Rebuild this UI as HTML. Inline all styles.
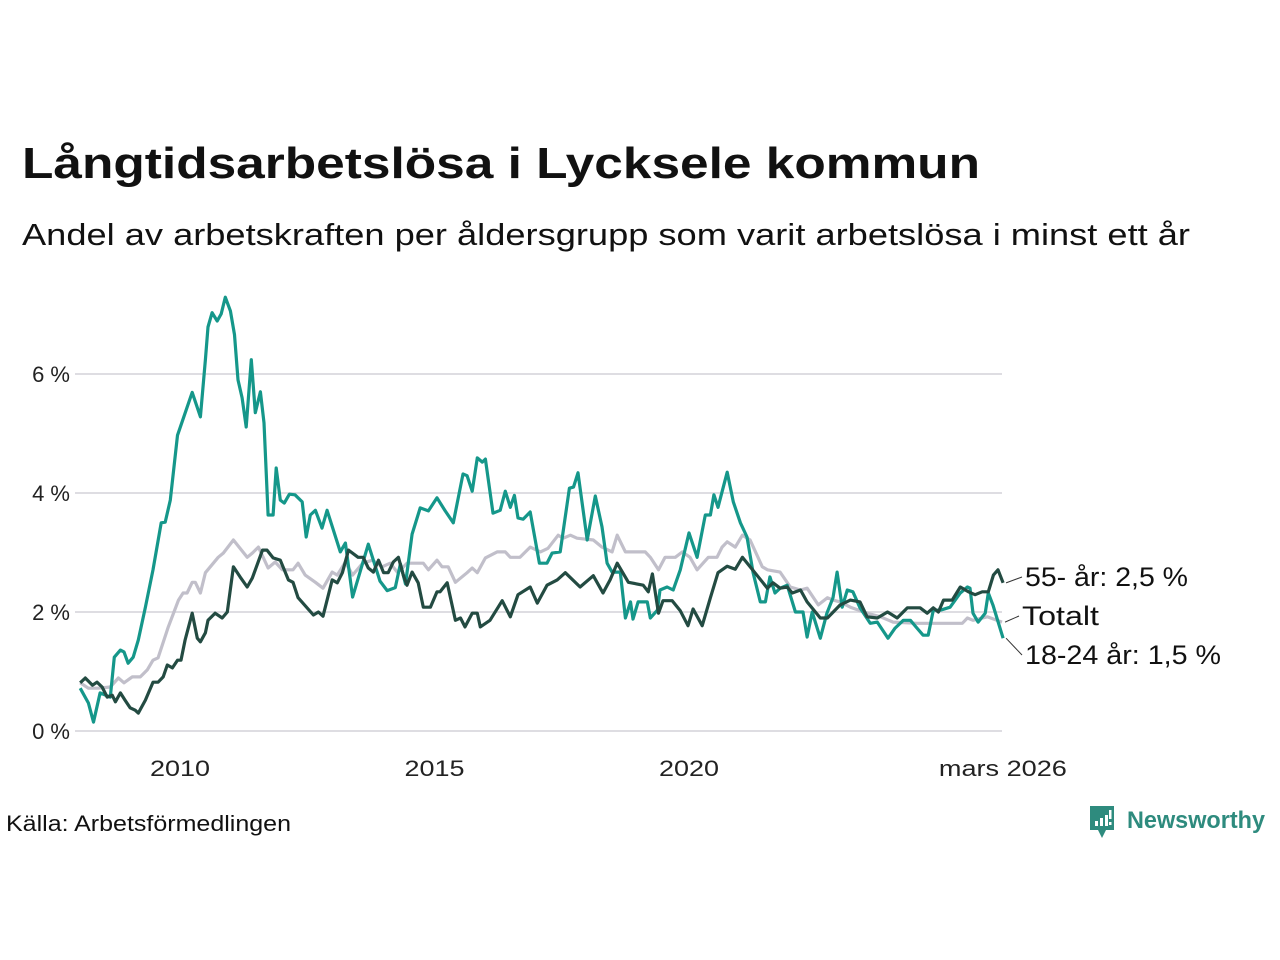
<!DOCTYPE html>
<html><head><meta charset="utf-8"><style>
html,body{margin:0;padding:0;background:#fff;}
svg{display:block;font-family:"Liberation Sans",sans-serif;}
</style></head><body>
<svg id="chart" width="1280" height="960" viewBox="0 0 1280 960">
<text x="22" y="178" font-size="44" font-weight="bold" fill="#111" textLength="958" lengthAdjust="spacingAndGlyphs">Långtidsarbetslösa i Lycksele kommun</text>
<text x="22" y="245" font-size="31" fill="#111" textLength="1168" lengthAdjust="spacingAndGlyphs">Andel av arbetskraften per åldersgrupp som varit arbetslösa i minst ett år</text>
<g id="grid"></g>
<g id="yticks"></g>
<g id="xticks"></g>
<g id="lines"></g>
<g id="labels"></g>
<text x="6" y="831" font-size="22" fill="#111" textLength="285" lengthAdjust="spacingAndGlyphs">Källa: Arbetsförmedlingen</text>
<g>
<path d="M1090 806 h24 v24 h-8 l-4 8 l-4 -8 h-8 z" fill="#2e8b7e"/>
<rect x="1095" y="821" width="3" height="5" fill="#fff"/><rect x="1100" y="818" width="3" height="8" fill="#fff"/><rect x="1105" y="815" width="3" height="11" fill="#fff"/><rect x="1109" y="810" width="2.5" height="9" fill="#fff"/><rect x="1109" y="822" width="2.5" height="3" fill="#fff"/>
<text x="1127" y="828" font-size="24" font-weight="bold" fill="#2e8b7e" textLength="138" lengthAdjust="spacingAndGlyphs">Newsworthy</text>
</g>
</svg>
<script>
const yTickValues=[0,2,4,6];
const yTickLabels=["0 %","2 %","4 %","6 %"];
const xTickValues=[2010,2015,2020,2026.167];
const xTickLabels=["2010","2015","2020","mars 2026"];

const youthYears=[2008.04,2008.20,2008.30,2008.43,2008.63,2008.71,2008.83,2008.90,2008.98,2009.08,2009.18,2009.32,2009.47,2009.63,2009.71,2009.81,2009.95,2010.24,2010.40,2010.50,2010.55,2010.63,2010.73,2010.81,2010.89,2010.99,2011.07,2011.14,2011.22,2011.30,2011.40,2011.48,2011.58,2011.65,2011.73,2011.83,2011.89,2011.97,2012.05,2012.15,2012.26,2012.40,2012.48,2012.56,2012.66,2012.79,2012.89,2013.15,2013.25,2013.39,2013.70,2013.93,2014.07,2014.23,2014.33,2014.43,2014.56,2014.72,2014.88,2015.05,2015.21,2015.37,2015.56,2015.64,2015.74,2015.84,2015.94,2016.00,2016.15,2016.29,2016.39,2016.49,2016.57,2016.64,2016.74,2016.88,2017.06,2017.21,2017.31,2017.47,2017.65,2017.73,2017.82,2018.00,2018.16,2018.29,2018.39,2018.49,2018.65,2018.75,2018.85,2018.90,2019.00,2019.18,2019.24,2019.38,2019.43,2019.57,2019.69,2019.83,2020.00,2020.16,2020.32,2020.42,2020.49,2020.57,2020.75,2020.87,2021.01,2021.14,2021.26,2021.40,2021.50,2021.59,2021.69,2021.79,2021.93,2022.09,2022.24,2022.32,2022.42,2022.58,2022.71,2022.83,2022.91,2023.01,2023.11,2023.22,2023.36,2023.56,2023.70,2023.91,2024.05,2024.21,2024.35,2024.48,2024.60,2024.70,2024.80,2024.94,2025.13,2025.33,2025.47,2025.52,2025.58,2025.68,2025.82,2025.88,2025.97,2026.17];
const youthValues=[0.72,0.47,0.15,0.64,0.57,1.24,1.36,1.33,1.14,1.24,1.53,2.08,2.71,3.50,3.51,3.88,4.97,5.69,5.28,6.24,6.79,7.03,6.89,7.01,7.29,7.06,6.66,5.90,5.60,5.11,6.24,5.35,5.70,5.18,3.63,3.63,4.42,3.88,3.83,3.98,3.97,3.85,3.26,3.63,3.71,3.41,3.71,3.01,3.16,2.25,3.14,2.52,2.36,2.41,2.81,2.47,3.31,3.75,3.70,3.92,3.70,3.50,4.32,4.29,4.03,4.59,4.52,4.57,3.66,3.71,4.03,3.76,3.96,3.58,3.56,3.68,2.82,2.82,2.99,3.01,4.08,4.10,4.34,3.21,3.95,3.43,2.82,2.67,2.67,1.90,2.17,1.88,2.17,2.17,1.90,2.03,2.37,2.42,2.37,2.71,3.33,2.92,3.63,3.63,3.97,3.76,4.35,3.85,3.50,3.26,2.66,2.17,2.17,2.59,2.32,2.40,2.45,2.00,2.00,1.58,2.00,1.56,1.98,2.24,2.67,2.08,2.37,2.34,2.07,1.81,1.83,1.56,1.73,1.86,1.86,1.73,1.61,1.61,2.03,2.03,2.08,2.32,2.42,2.40,1.98,1.83,1.98,2.32,2.12,1.56];

const olderYears=[2008.04,2008.14,2008.28,2008.37,2008.47,2008.57,2008.67,2008.73,2008.83,2008.92,2009.02,2009.12,2009.18,2009.32,2009.47,2009.57,2009.67,2009.75,2009.85,2009.95,2010.02,2010.10,2010.24,2010.34,2010.40,2010.50,2010.55,2010.69,2010.83,2010.93,2011.05,2011.18,2011.32,2011.42,2011.62,2011.71,2011.83,2011.97,2012.13,2012.22,2012.32,2012.62,2012.72,2012.81,2012.99,2013.09,2013.19,2013.31,2013.50,2013.60,2013.70,2013.80,2013.90,2014.00,2014.09,2014.19,2014.29,2014.39,2014.46,2014.56,2014.68,2014.78,2014.92,2015.05,2015.11,2015.25,2015.41,2015.51,2015.60,2015.74,2015.84,2015.90,2016.09,2016.33,2016.49,2016.64,2016.88,2017.02,2017.21,2017.41,2017.57,2017.86,2018.12,2018.31,2018.45,2018.59,2018.81,2019.10,2019.20,2019.28,2019.40,2019.49,2019.67,2019.83,2019.98,2020.08,2020.26,2020.42,2020.57,2020.75,2020.91,2021.05,2021.20,2021.54,2021.65,2021.79,2021.93,2022.03,2022.19,2022.32,2022.58,2022.72,2022.97,2023.17,2023.36,2023.50,2023.70,2023.90,2024.09,2024.29,2024.54,2024.68,2024.80,2024.90,2025.00,2025.17,2025.33,2025.49,2025.62,2025.76,2025.88,2025.98,2026.07,2026.17];
const olderValues=[0.81,0.89,0.77,0.82,0.74,0.57,0.60,0.49,0.64,0.52,0.39,0.35,0.30,0.52,0.82,0.82,0.91,1.11,1.06,1.19,1.19,1.53,1.98,1.56,1.50,1.65,1.86,1.98,1.90,2.00,2.76,2.59,2.42,2.57,3.04,3.04,2.91,2.87,2.54,2.50,2.24,1.95,2.00,1.93,2.54,2.49,2.66,3.04,2.92,2.92,2.74,2.67,2.87,2.66,2.66,2.84,2.92,2.61,2.45,2.67,2.49,2.08,2.08,2.34,2.34,2.49,1.86,1.90,1.75,1.98,1.98,1.75,1.86,2.19,1.92,2.29,2.42,2.15,2.45,2.54,2.66,2.42,2.61,2.32,2.54,2.82,2.50,2.45,2.34,2.64,1.98,2.19,2.19,2.02,1.77,2.05,1.77,2.24,2.66,2.77,2.72,2.92,2.76,2.40,2.49,2.40,2.42,2.32,2.37,2.17,1.90,1.90,2.12,2.20,2.17,1.92,1.90,2.00,1.90,2.07,2.07,1.98,2.07,2.00,2.20,2.20,2.42,2.34,2.29,2.34,2.34,2.62,2.71,2.49];

const totalYears=[2008.04,2008.20,2008.39,2008.63,2008.79,2008.90,2009.06,2009.22,2009.36,2009.47,2009.57,2009.77,2009.97,2010.06,2010.14,2010.24,2010.30,2010.40,2010.50,2010.75,2010.85,2011.05,2011.32,2011.42,2011.54,2011.73,2011.87,2012.01,2012.22,2012.32,2012.46,2012.66,2012.81,2012.99,2013.09,2013.25,2013.39,2013.59,2013.78,2013.97,2014.13,2014.27,2014.37,2014.46,2014.78,2014.88,2015.05,2015.15,2015.27,2015.41,2015.64,2015.74,2015.84,2016.00,2016.23,2016.39,2016.49,2016.68,2016.88,2017.08,2017.23,2017.43,2017.53,2017.67,2017.80,2018.12,2018.29,2018.49,2018.59,2018.75,2018.90,2019.14,2019.24,2019.40,2019.53,2019.73,2019.87,2020.02,2020.16,2020.38,2020.55,2020.65,2020.75,2020.91,2021.05,2021.20,2021.44,2021.54,2021.79,2021.99,2022.19,2022.32,2022.54,2022.72,2022.83,2022.97,2023.17,2023.50,2023.76,2024.01,2024.48,2025.37,2025.47,2025.58,2025.86,2026.15];
const totalValues=[0.81,0.72,0.72,0.74,0.89,0.81,0.91,0.91,1.03,1.19,1.23,1.75,2.20,2.32,2.32,2.50,2.50,2.32,2.66,2.92,2.99,3.21,2.92,2.99,3.09,2.74,2.84,2.71,2.71,2.82,2.62,2.50,2.40,2.67,2.62,2.84,2.62,2.82,2.87,2.76,2.82,2.67,2.74,2.82,2.82,2.71,2.87,2.76,2.76,2.50,2.66,2.74,2.66,2.91,3.01,3.01,2.92,2.92,3.09,3.01,3.07,3.29,3.24,3.29,3.24,3.21,3.09,3.01,3.29,3.01,3.01,3.01,2.92,2.71,2.92,2.92,3.01,2.92,2.71,2.92,2.92,3.09,3.18,3.09,3.29,3.21,2.76,2.71,2.67,2.42,2.37,2.40,2.12,2.24,2.20,2.17,2.08,1.98,1.92,1.83,1.81,1.81,1.90,1.86,1.92,1.83];

const NS="http://www.w3.org/2000/svg";
function xScale(yr){return 180+(yr-2010)*50.9;}
function yScale(v){return 731-v*59.5;}
function mk(tag,attrs,parent){const e=document.createElementNS(NS,tag);for(const k in attrs)e.setAttribute(k,attrs[k]);parent.appendChild(e);return e;}

const grid=document.getElementById('grid');
const yt=document.getElementById('yticks');
yTickValues.forEach((v,i)=>{
  const l=mk('line',{x1:75,x2:1002,y1:yScale(v),y2:yScale(v),stroke:'#dedde2','stroke-width':2},grid);
  
  
  const t=mk('text',{x:70,y:yScale(v)+8,'font-size':22,fill:'#222','text-anchor':'end'},yt);
  t.textContent=yTickLabels[i];
  
  
});
const xt=document.getElementById('xticks');
xTickValues.forEach((v,i)=>{
  const t=mk('text',{x:xScale(v),y:776,'font-size':22,fill:'#222','text-anchor':'middle'},xt);
  t.textContent=xTickLabels[i];
  if(i===3){t.setAttribute('textLength','128');t.setAttribute('lengthAdjust','spacingAndGlyphs');}
  else{t.setAttribute('textLength','60');t.setAttribute('lengthAdjust','spacingAndGlyphs');}
  
  
});
const lines=document.getElementById('lines');
function draw(xs,vs,color,name){
  const d=xs.map((x,i)=>(i?'L':'M')+xScale(x).toFixed(1)+' '+yScale(vs[i]).toFixed(1)).join(' ');
  const p=mk('path',{d:d,fill:'none',stroke:color,'stroke-width':3.2,'stroke-linejoin':'round'},lines);
  
  
}
draw(totalYears,totalValues,'#c1bfca','line-totalt');
draw(youthYears,youthValues,'#15978a','line-18-24');
draw(olderYears,olderValues,'#234b42','line-55');

const labs=document.getElementById('labels');
const endDefs=[[olderYears,olderValues,577,'55- år: 2,5 %','label-55',1025,163],[totalYears,totalValues,616,'Totalt','label-totalt',1022,77],[youthYears,youthValues,655,'18-24 år: 1,5 %','label-18-24',1025,196]];
endDefs.forEach(e=>{
  const xs=e[0],vs=e[1];
  const ex=xScale(xs[xs.length-1]),ey=yScale(vs[vs.length-1]);
  const c=mk('line',{x1:ex+3,y1:ey,x2:e[5]-3,y2:e[2],stroke:'#333','stroke-width':1},labs);
  
  
  const t=mk('text',{x:e[5],y:e[2]+9,'font-size':27,fill:'#111',textLength:e[6],lengthAdjust:'spacingAndGlyphs'},labs);
  t.textContent=e[3];
  
  
});
</script>
</body></html>
